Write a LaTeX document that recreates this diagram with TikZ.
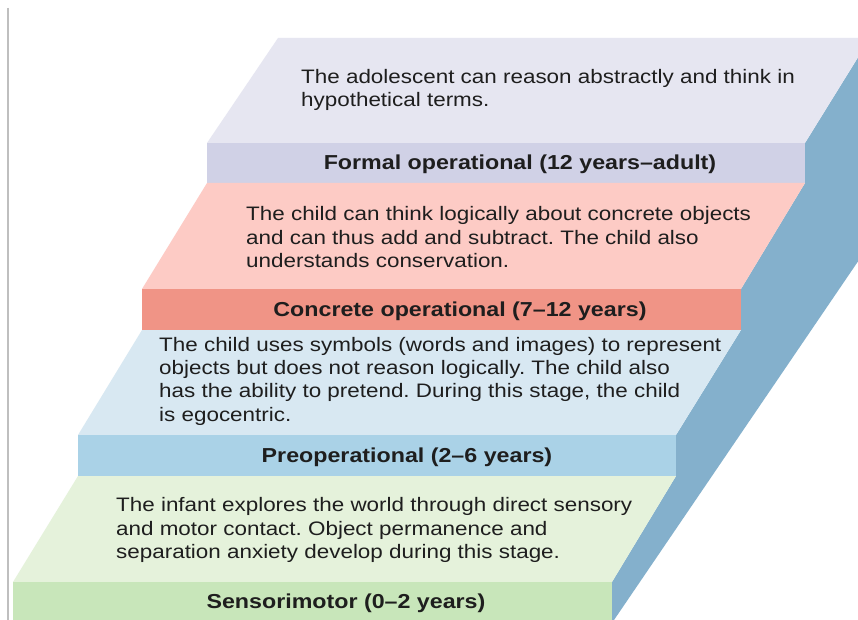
\documentclass[tikz,border=0pt]{standalone}
\usepackage{fontspec}
\setmainfont{Liberation Sans}[FakeStretch=1.15]
\frenchspacing
\definecolor{ink}{HTML}{1E1E1E}
\definecolor{sidebl}{HTML}{84B0CC}
\definecolor{formtop}{HTML}{E6E6F1}
\definecolor{formband}{HTML}{D0D1E6}
\definecolor{conctop}{HTML}{FDCBC5}
\definecolor{concband}{HTML}{F09486}
\definecolor{pretop}{HTML}{D8E8F2}
\definecolor{preband}{HTML}{AAD2E7}
\definecolor{sentop}{HTML}{E5F2DB}
\definecolor{senband}{HTML}{C8E6BA}
\tikzset{
  % multi-line text: the base anchor sits on the last line
  body/.style={anchor=base west, align=left, inner sep=0pt, text=ink,
    font=\fontsize{19.5}{23.3}\selectfont},
  stagetitle/.style={anchor=base, inner sep=0pt, text=ink,
    font=\bfseries\fontsize{20.2}{24}\selectfont},
}
\begin{document}
\begin{tikzpicture}[x=1pt,y=-1pt]
\useasboundingbox (0,0) rectangle (858,620);
\clip (0,0) rectangle (858,620);
\fill[white] (0,0) rectangle (858,620);
% frame line on the left
\draw[black!25, line width=1.2pt] (8,8) -- (8,620);
% shaded right-hand side of the staircase
\fill[sidebl] (870,38) -- (1010,38) -- (614,620) -- (612,620) -- (612,582)
  -- (676,476) -- (676,435) -- (741,330) -- (741,289) -- (805,183)
  -- (805,143) -- cycle;
% formal operational step
\fill[formtop] (278,38) -- (870,38) -- (805,143) -- (207,143) -- cycle;
\fill[formband] (207,143) rectangle (805,183);
% concrete operational step
\fill[conctop] (207,183) -- (805,183) -- (741,289) -- (142,289) -- cycle;
\fill[concband] (142,289) rectangle (741,330);
% preoperational step
\fill[pretop] (142,330) -- (741,330) -- (676,435) -- (78,435) -- cycle;
\fill[preband] (78,435) rectangle (676,476);
% sensorimotor step
\fill[sentop] (78,476) -- (676,476) -- (612,582) -- (13,582) -- cycle;
\fill[senband] (13,582) rectangle (612,620);
% descriptions (positioned by the baseline of their last line)
\node[body] (formaltext) at (301,106.5)
  {The adolescent can reason abstractly and think in\\hypothetical terms.};
\node[body] (concretetext) at (246,267.5)
  {The child can think logically about concrete objects\\and can thus add and subtract. The child also\\understands conservation.};
\node[body] (preoptext) at (159,421)
  {The child uses symbols (words and images) to represent\\objects but does not reason logically. The child also\\has the ability to pretend. During this stage, the child\\is egocentric.};
\node[body] (sensortext) at (116,558.5)
  {The infant explores the world through direct sensory\\and motor contact. Object permanence and\\separation anxiety develop during this stage.};
% stage titles
\node[stagetitle] (formaltitle) at (520,170) {Formal operational (12 years–adult)};
\node[stagetitle] (concretetitle) at (460,316.5) {Concrete operational (7–12 years)};
\node[stagetitle] (preoptitle) at (407,462.5) {Preoperational (2–6 years)};
\node[stagetitle] (sensortitle) at (346,608) {Sensorimotor (0–2 years)};
\end{tikzpicture}
\end{document}
